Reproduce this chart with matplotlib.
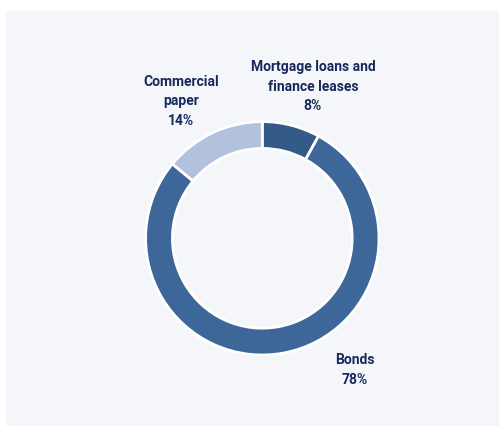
import matplotlib.pyplot as plt
from matplotlib.patches import Rectangle

# data
labels = ["Mortgage loans and\nfinance leases", "Bonds", "Commercial\npaper"]
shares = [8, 78, 14]
colors = ["#345a87", "#3d6699", "#b3c2dc"]

# label positions (data units, donut radius = 1)
label_pos = [(0.434, 1.297), (0.794, -1.128), (-0.697, 1.176)]

text_color = "#17295c"

fig = plt.figure(figsize=(4.99, 4.26), dpi=100)
fig.patch.set_facecolor("white")

# light panel behind the chart
fig.patches.append(Rectangle((6 / 499, 0), 1, 1 - 11 / 426, transform=fig.transFigure,
                             facecolor="#f4f6fa", edgecolor="none", zorder=-5))

R = 116.7  # outer radius in px
cx, cy = 262.3, 426 - 238.3
half = 1.6 * R
ax = fig.add_axes([(cx - half) / 499, (cy - half) / 426, 2 * half / 499, 2 * half / 426])
ax.set_facecolor("none")

ax.pie(shares, colors=colors, startangle=90, counterclock=False, radius=1,
       wedgeprops=dict(width=0.23, edgecolor="white", linewidth=2))

for name, v, (x, y) in zip(labels, shares, label_pos):
    ax.text(x, y, f"{name}\n{v}%", ha="center", va="center", fontsize=10,
            fontweight="bold", family="Roboto", color=text_color, linespacing=1.5)

ax.set_xlim(-1.6, 1.6)
ax.set_ylim(-1.6, 1.6)
ax.set_aspect("equal")
ax.axis("off")

fig.savefig("out.png", dpi=100)
